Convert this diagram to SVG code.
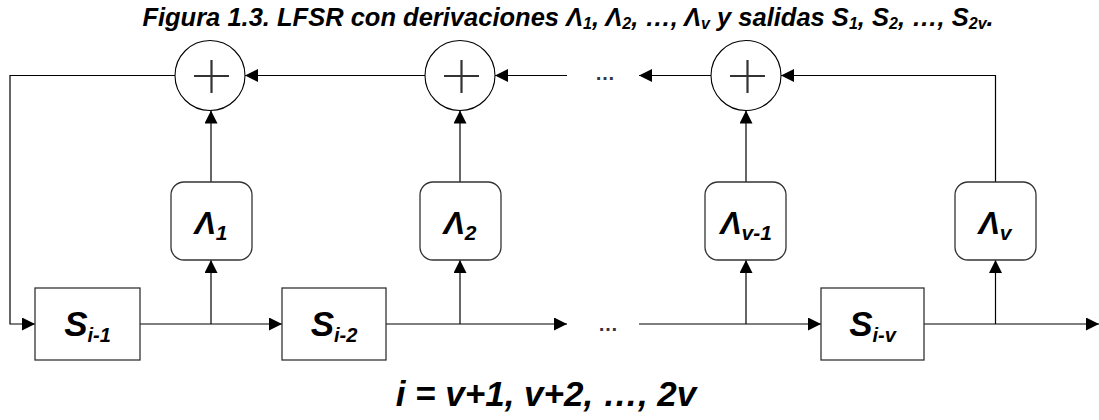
<svg xmlns="http://www.w3.org/2000/svg" width="1099" height="420" viewBox="0 0 1099 420">
<defs>
<style>
.t{font-family:"Liberation Sans",Arial,sans-serif;font-weight:bold;font-style:italic;fill:#000}
.ln{fill:none;stroke:#000;stroke-width:1.2}
.sum{fill:#fff;stroke:#000;stroke-width:1.1}
.plus{stroke:#333;stroke-width:2.2;fill:none}
.reg{fill:#fff;stroke:#333;stroke-width:1.3}
.tap{fill:#fff;stroke:#333;stroke-width:1.3}
.dots{font-family:"Liberation Sans",Arial,sans-serif;font-size:20px;font-weight:bold;fill:#334}
</style>
<marker id="ah" markerUnits="userSpaceOnUse" markerWidth="13" markerHeight="13" viewBox="0 0 13 13" refX="13" refY="6.5" orient="auto">
<path d="M0,0 L13,6.5 L0,13 Z" fill="#000"/>
</marker>
</defs>
<rect width="1099" height="420" fill="#fff"/>
<text class="t" x="568" y="26" font-size="25.5" text-anchor="middle">Figura 1.3. LFSR con derivaciones Λ<tspan font-size="16" dy="3">1</tspan><tspan dy="-3">, Λ</tspan><tspan font-size="16" dy="3">2</tspan><tspan dy="-3">, …, Λ</tspan><tspan font-size="16" dy="3">v</tspan><tspan dy="-3"> y salidas S</tspan><tspan font-size="16" dy="3">1</tspan><tspan dy="-3">, S</tspan><tspan font-size="16" dy="3">2</tspan><tspan dy="-3">, …, S</tspan><tspan font-size="16" dy="3">2v</tspan><tspan dy="-3">.</tspan></text>
<g id="connectors">
<path class="ln" d="M175,75.5 H10 V324 H35" marker-end="url(#ah)"/>
<path class="ln" d="M140,324 H282" marker-end="url(#ah)"/>
<path class="ln" d="M211,324 V260" marker-end="url(#ah)"/>
<path class="ln" d="M211,182 V110.5" marker-end="url(#ah)"/>
<path class="ln" d="M425,75.5 H245" marker-end="url(#ah)"/>
<path class="ln" d="M386,324 H567" marker-end="url(#ah)"/>
<path class="ln" d="M460,324 V260" marker-end="url(#ah)"/>
<path class="ln" d="M460,182 V110.5" marker-end="url(#ah)"/>
<path class="ln" d="M567,75.5 H495" marker-end="url(#ah)"/>
<path class="ln" d="M711,75.5 H639" marker-end="url(#ah)"/>
<path class="ln" d="M639,324 H821" marker-end="url(#ah)"/>
<path class="ln" d="M746,324 V260" marker-end="url(#ah)"/>
<path class="ln" d="M746,182 V110.5" marker-end="url(#ah)"/>
<path class="ln" d="M924,324 H1099" marker-end="url(#ah)"/>
<path class="ln" d="M995.5,324 V260" marker-end="url(#ah)"/>
<path class="ln" d="M995.5,182 V75.5 H781" marker-end="url(#ah)"/>
<text class="dots" x="605" y="80" text-anchor="middle">…</text>
<text class="dots" x="608" y="331" text-anchor="middle">…</text>
</g>
<g id="sum1"><circle class="sum" cx="210" cy="75.5" r="35"/><path class="plus" d="M194,76 H229 M211.5,60 V93"/></g>
<g id="sum2"><circle class="sum" cx="460" cy="75.5" r="35"/><path class="plus" d="M444,76 H479 M461.5,60 V93"/></g>
<g id="sum3"><circle class="sum" cx="746" cy="75.5" r="35"/><path class="plus" d="M730,76 H765 M747.5,60 V93"/></g>
<g id="lambda1"><rect class="tap" x="171" y="182" width="81" height="78" rx="13"/><text class="t" x="211" y="234" font-size="32" text-anchor="middle">Λ<tspan font-size="21" dy="6">1</tspan></text></g>
<g id="lambda2"><rect class="tap" x="420" y="182" width="81" height="78" rx="13"/><text class="t" x="460" y="234" font-size="32" text-anchor="middle">Λ<tspan font-size="21" dy="6">2</tspan></text></g>
<g id="lambdav1"><rect class="tap" x="705" y="182" width="81" height="78" rx="13"/><text class="t" x="746" y="234" font-size="32" text-anchor="middle">Λ<tspan font-size="21" dy="6">v-1</tspan></text></g>
<g id="lambdav"><rect class="tap" x="955" y="182" width="81" height="78" rx="13"/><text class="t" x="995" y="234" font-size="32" text-anchor="middle">Λ<tspan font-size="21" dy="6">v</tspan></text></g>
<g id="reg1"><rect class="reg" x="35" y="288" width="105" height="72"/><text class="t" x="87.5" y="336" font-size="35" text-anchor="middle">S<tspan font-size="20" dy="6">i-1</tspan></text></g>
<g id="reg2"><rect class="reg" x="282" y="288" width="104" height="72"/><text class="t" x="334" y="336" font-size="35" text-anchor="middle">S<tspan font-size="20" dy="6">i-2</tspan></text></g>
<g id="regv"><rect class="reg" x="821" y="288" width="103" height="72"/><text class="t" x="872.5" y="336" font-size="35" text-anchor="middle">S<tspan font-size="20" dy="6">i-v</tspan></text></g>
<text class="t" x="546" y="406" font-size="35" text-anchor="middle">i = v+1, v+2, …, 2v</text>
</svg>
